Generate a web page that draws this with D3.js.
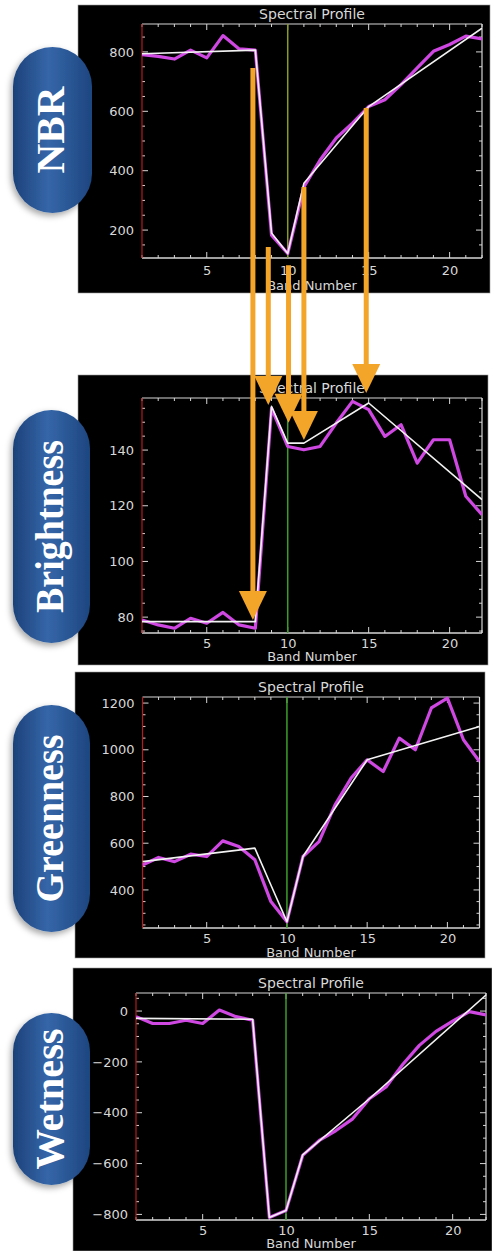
<!DOCTYPE html>
<html>
<head>
<meta charset="utf-8">
<script src="https://cdn.jsdelivr.net/npm/d3@7"></script>
<style>
  html, body { margin: 0; padding: 0; background: #ffffff; }
  svg { display: block; }
</style>
</head>
<body>
<script>
// ---- data ---------------------------------------------------------------
const bands = [1, 2, 3, 4, 5, 6, 7, 8, 9, 10, 11, 12, 13, 14, 15, 16, 17, 18, 19, 20, 21, 22];
const fitBands = [1, 8, 9, 10, 11, 15, 22];
const xTicks = [5, 10, 15, 20];
const disturbanceBand = 10;

const nbrValues = [791, 785, 776, 806, 780, 855, 810, 806, 183, 121, 345, 436, 510, 560, 616, 639, 690, 746, 802, 825, 853, 844];
const nbrFit = [794, 806, 190, 121, 358, 616, 880];
const nbrTicks = [200, 400, 600, 800];

const brightnessValues = [79, 77.2, 76, 79.6, 77.8, 81.7, 77.2, 76, 155, 141.3, 140.1, 141.3, 149.7, 157.5, 154.5, 144.9, 149.1, 135.3, 143.7, 143.7, 123.4, 116.8];
const brightnessFit = [78.4, 78.4, 155.7, 142.5, 142.5, 156.9, 122.2];
const brightnessTicks = [80, 100, 120, 140];

const greennessValues = [507, 539, 521, 553, 543, 610, 586, 529, 350, 264, 543, 607, 764, 879, 957, 907, 1050, 1000, 1179, 1221, 1043, 950];
const greennessFit = [521, 579, 421, 264, 543, 957, 1100];
const greennessTicks = [400, 600, 800, 1000, 1200];

const wetnessValues = [-22, -49, -49, -36, -49, 4, -22, -36, -812, -785, -568, -509, -470, -424, -345, -299, -210, -135, -80, -40, -2, -15];
const wetnessFit = [-29, -32, -812, -785, -566, -345, 63];
const wetnessTicks = [-800, -600, -400, -200, 0];

// vertices carried from the NBR trajectory down to the Brightness trajectory
const arrowBands = [7.85, 8.8, 10.05, 11.0, 14.85];
const arrowFromNbr = [746, 143, 82, 345, 611];
const arrowToBrightness = [79.0, 156.2, 149.8, 143.6, 160.5];

// ---- layout -------------------------------------------------------------
const W = 492, H = 1251;
const panels = [
  { name: "NBR", values: nbrValues, fit: nbrFit, ticks: nbrTicks, yDomain: [106, 894],
    box: [78, 5, 490, 293], plot: [142, 24, 482, 258], tickDy: 17, titleDy: 32,
    pill: [13, 47, 92, 213], textLen: 87, vline: "#8c9a26" },
  { name: "Brightness", values: brightnessValues, fit: brightnessFit, ticks: brightnessTicks, yDomain: [74.3, 158.7],
    box: [78, 375, 488, 665], plot: [142, 398, 482, 633], tickDy: 15, titleDy: 28,
    pill: [13, 410, 90, 643], textLen: 173, vline: "#3d9d2a" },
  { name: "Greenness", values: greennessValues, fit: greennessFit, ticks: greennessTicks, yDomain: [237, 1226],
    box: [75, 672, 485, 958], plot: [142.5, 697, 479.5, 928], tickDy: 15, titleDy: 29,
    pill: [13, 705, 90, 932], textLen: 168, vline: "#3d9d2a" },
  { name: "Wetness", values: wetnessValues, fit: wetnessFit, ticks: wetnessTicks, yDomain: [-822, 71],
    box: [73, 968, 492, 1251], plot: [136, 993, 486, 1220], tickDy: 15, titleDy: 28,
    pill: [13, 1013, 90, 1185], textLen: 141, vline: "#3d9d2a" }
];

const AXIS = "#d6d6d6";
const TEXT = "#d8d8d8";
const MAGENTA = "#cf48e2";
const FITLINE = "#f2f2f2";
const LEFTAXIS = "#b41c1c";
const ORANGE = "#f3a52a";
const FONT = "'DejaVu Sans', Verdana, sans-serif";

const svg = d3.select("body").append("svg")
  .attr("width", W).attr("height", H)
  .attr("viewBox", `0 0 ${W} ${H}`);

const defs = svg.append("defs");
const grad = defs.append("linearGradient").attr("id", "pillFill")
  .attr("x1", "0%").attr("x2", "100%").attr("y1", "0%").attr("y2", "0%");
grad.append("stop").attr("offset", "0%").attr("stop-color", "#1c427a");
grad.append("stop").attr("offset", "45%").attr("stop-color", "#3566a8");
grad.append("stop").attr("offset", "100%").attr("stop-color", "#1d4680");

const shadow = defs.append("filter").attr("id", "pillShadow")
  .attr("x", "-30%").attr("y", "-20%").attr("width", "160%").attr("height", "140%");
shadow.append("feDropShadow").attr("dx", -2).attr("dy", 3).attr("stdDeviation", 3)
  .attr("flood-color", "#000").attr("flood-opacity", 0.35);

// ---- panels -------------------------------------------------------------
const scales = {};

panels.forEach(p => {
  const [bx0, by0, bx1, by1] = p.box;
  const [px0, py0, px1, py1] = p.plot;
  const g = svg.append("g").attr("class", "panel " + p.name);

  g.append("rect").attr("x", bx0).attr("y", by0)
    .attr("width", bx1 - bx0).attr("height", by1 - by0)
    .attr("fill", "#000").attr("stroke", "#9a9a9a").attr("stroke-width", 0.6);

  const x = d3.scaleLinear().domain([1, 22]).range([px0, px1]);
  const y = d3.scaleLinear().domain(p.yDomain).range([py1, py0]);
  scales[p.name] = { x, y };

  // clip to the plotting window
  const clipId = "clip-" + p.name;
  defs.append("clipPath").attr("id", clipId).append("rect")
    .attr("x", px0).attr("y", py0 - 1).attr("width", px1 - px0).attr("height", py1 - py0 + 2);

  // box axes with major and minor ticks on every side
  const yStep = p.ticks[1] - p.ticks[0];
  const yMinor = d3.range(Math.ceil(p.yDomain[0] / (yStep / 4)) * (yStep / 4), p.yDomain[1], yStep / 4)
    .filter(v => !p.ticks.some(t => Math.abs(t - v) < 1e-6));
  const xMinor = bands.filter(b => !xTicks.includes(b));

  const axB = d3.axisBottom(x).tickValues(xTicks).tickSize(0).tickPadding(0).tickFormat(d3.format("d"));
  const gB = g.append("g").attr("transform", `translate(0,${py1})`).call(axB);
  gB.select(".domain").remove();
  gB.selectAll("text").attr("dy", 0).attr("y", p.tickDy)
    .attr("fill", TEXT).attr("font-family", FONT).attr("font-size", 13);

  const axL = d3.axisLeft(y).tickValues(p.ticks).tickSize(0).tickPadding(8).tickFormat(d3.format("d"));
  const gL = g.append("g").attr("transform", `translate(${px0},0)`).call(axL);
  gL.select(".domain").remove();
  gL.selectAll("text").attr("fill", TEXT).attr("font-family", FONT).attr("font-size", 13);

  const tickG = g.append("g").attr("stroke", AXIS).attr("stroke-width", 1);
  const xt = xTicks.map(v => ({ v, len: 6 })).concat(xMinor.map(v => ({ v, len: 3 })));
  xt.forEach(t => {
    tickG.append("line").attr("x1", x(t.v)).attr("x2", x(t.v)).attr("y1", py1).attr("y2", py1 - t.len);
    tickG.append("line").attr("x1", x(t.v)).attr("x2", x(t.v)).attr("y1", py0).attr("y2", py0 + t.len);
  });
  const yt = p.ticks.map(v => ({ v, len: 6 })).concat(yMinor.map(v => ({ v, len: 3 })));
  yt.forEach(t => {
    tickG.append("line").attr("x1", px0).attr("x2", px0 + t.len).attr("y1", y(t.v)).attr("y2", y(t.v));
    tickG.append("line").attr("x1", px1).attr("x2", px1 - t.len).attr("y1", y(t.v)).attr("y2", y(t.v));
  });

  g.append("line").attr("x1", px0).attr("x2", px1).attr("y1", py1).attr("y2", py1)
    .attr("stroke", AXIS).attr("stroke-width", 1.4);
  g.append("line").attr("x1", px0).attr("x2", px1).attr("y1", py0).attr("y2", py0)
    .attr("stroke", AXIS).attr("stroke-width", 1.2);
  g.append("line").attr("x1", px1).attr("x2", px1).attr("y1", py0).attr("y2", py1)
    .attr("stroke", AXIS).attr("stroke-width", 1.2);
  g.append("line").attr("x1", px0).attr("x2", px0).attr("y1", py0).attr("y2", py1)
    .attr("stroke", LEFTAXIS).attr("stroke-width", 1.2);

  // disturbance year marker
  g.append("line").attr("x1", x(disturbanceBand)).attr("x2", x(disturbanceBand))
    .attr("y1", py0).attr("y2", py1).attr("stroke", p.vline).attr("stroke-width", 1.5);

  const line = d3.line().x(d => x(d[0])).y(d => y(d[1]));
  const plotG = g.append("g").attr("clip-path", `url(#${clipId})`);
  plotG.append("path").datum(bands.map((b, i) => [b, p.values[i]]))
    .attr("d", line).attr("fill", "none").attr("stroke", MAGENTA)
    .attr("stroke-width", 3.2).attr("stroke-linejoin", "round");
  plotG.append("path").datum(fitBands.map((b, i) => [b, p.fit[i]]))
    .attr("d", line).attr("fill", "none").attr("stroke", FITLINE)
    .attr("stroke-width", 1.6).attr("stroke-linejoin", "round");

  // titles
  g.append("text").attr("x", (px0 + px1) / 2).attr("y", py0 - 5)
    .attr("text-anchor", "middle").attr("fill", TEXT)
    .attr("font-family", FONT).attr("font-size", 14).text("Spectral Profile");
  g.append("text").attr("x", (px0 + px1) / 2).attr("y", py1 + p.titleDy)
    .attr("text-anchor", "middle").attr("fill", TEXT)
    .attr("font-family", FONT).attr("font-size", 13).text("Band Number");
});

// ---- index labels -------------------------------------------------------
panels.forEach(p => {
  const [x0, y0, x1, y1] = p.pill;
  const w = x1 - x0;
  svg.append("rect").attr("x", x0).attr("y", y0).attr("width", w).attr("height", y1 - y0)
    .attr("rx", w / 2).attr("ry", w / 2)
    .attr("fill", "url(#pillFill)").attr("filter", "url(#pillShadow)");
  const cx = x0 + w / 2 + 11, cy = (y0 + y1) / 2;
  svg.append("text").attr("transform", `translate(${cx},${cy}) rotate(-90)`)
    .attr("text-anchor", "middle").attr("fill", "#ffffff")
    .attr("font-family", "'Liberation Serif', 'DejaVu Serif', serif")
    .attr("font-weight", "bold").attr("font-size", 41)
    .attr("textLength", p.textLen).attr("lengthAdjust", "spacingAndGlyphs")
    .text(p.name);
});

// ---- arrows linking the NBR vertices to Brightness ------------------------
const sN = scales["NBR"], sB = scales["Brightness"];
const arrowG = svg.append("g").attr("class", "arrows");
arrowBands.forEach((b, i) => {
  const xs = sN.x(b);
  const ys = sN.y(arrowFromNbr[i]);
  const yt = sB.y(arrowToBrightness[i]);
  const headH = 29, headW = 28;
  arrowG.append("line").attr("x1", xs).attr("x2", xs).attr("y1", ys).attr("y2", yt - headH + 2)
    .attr("stroke", ORANGE).attr("stroke-width", 5);
  arrowG.append("path")
    .attr("d", `M${xs - headW / 2},${yt - headH} L${xs + headW / 2},${yt - headH} L${xs},${yt} Z`)
    .attr("fill", ORANGE);
});
</script>
</body>
</html>
